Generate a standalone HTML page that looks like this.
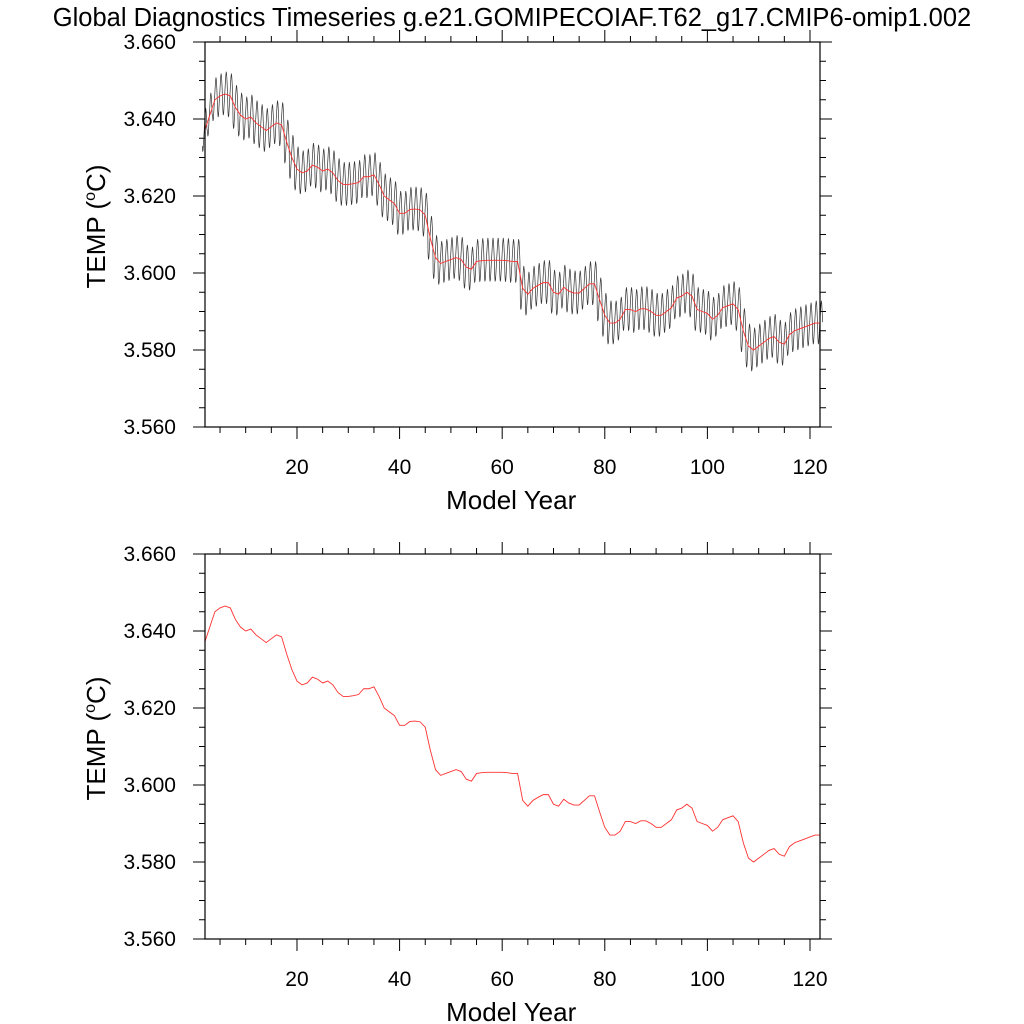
<!DOCTYPE html>
<html><head><meta charset="utf-8"><style>
body{margin:0;background:#fff;}
svg{display:block;font-family:"Liberation Sans",Arial,sans-serif;}
</style></head><body>
<svg id="chart" width="1024" height="1024" viewBox="0 0 1024 1024" xmlns="http://www.w3.org/2000/svg">
<text x="512" y="26" font-size="25.5" text-anchor="middle">Global Diagnostics Timeseries g.e21.GOMIPECOIAF.T62_g17.CMIP6-omip1.002</text>
<g id="p1"></g>
<g id="p2"></g>
</svg>
<script>
const years=[2,3,4,5,6,7,8,9,10,11,12,13,14,15,16,17,18,19,20,21,22,23,24,25,26,27,28,29,30,31,32,33,34,35,36,37,38,39,40,41,42,43,44,45,46,47,48,49,50,51,52,53,54,55,56,57,58,59,60,61,62,63,64,65,66,67,68,69,70,71,72,73,74,75,76,77,78,79,80,81,82,83,84,85,86,87,88,89,90,91,92,93,94,95,96,97,98,99,100,101,102,103,104,105,106,107,108,109,110,111,112,113,114,115,116,117,118,119,120,121,122];
const annualTemp=[3.637,3.641,3.645,3.646,3.6465,3.646,3.643,3.641,3.640,3.6405,3.639,3.638,3.637,3.638,3.639,3.6385,3.634,3.630,3.627,3.626,3.6265,3.628,3.6275,3.6265,3.627,3.626,3.624,3.623,3.623,3.6232,3.6235,3.625,3.625,3.6255,3.623,3.620,3.619,3.618,3.6155,3.6155,3.6165,3.6166,3.6164,3.615,3.609,3.604,3.6025,3.603,3.6035,3.604,3.6035,3.6015,3.601,3.603,3.6032,3.6033,3.6033,3.6033,3.6033,3.6032,3.603,3.603,3.596,3.5945,3.596,3.5968,3.5975,3.5975,3.595,3.5945,3.5963,3.5953,3.5948,3.5948,3.596,3.5972,3.5972,3.593,3.589,3.587,3.587,3.588,3.5905,3.5905,3.590,3.5907,3.5907,3.590,3.589,3.589,3.590,3.591,3.5935,3.594,3.595,3.594,3.5905,3.590,3.5895,3.588,3.589,3.591,3.5915,3.592,3.5905,3.585,3.581,3.580,3.581,3.582,3.583,3.5835,3.582,3.5815,3.584,3.585,3.5855,3.586,3.5865,3.587,3.587];
const seasonalAnom=[-0.004,-0.0055,-0.005,-0.003,-0.001,0.001,0.003,0.0048,0.0058,0.005,0.003,0.0002];
const yTicks=[3.560,3.580,3.600,3.620,3.640,3.660];
const yTickLabels=["3.560","3.580","3.600","3.620","3.640","3.660"];
const xTicks=[20,40,60,80,100,120];
const xTickLabels=["20","40","60","80","100","120"];

const NS="http://www.w3.org/2000/svg";
const L=205,R=820,XMIN=2.07,XMAX=121.95,YMIN=3.560,YMAX=3.660;
function sx(v){return L+(v-XMIN)/(XMAX-XMIN)*(R-L);}
function mk(g,tag,attrs){const e=document.createElementNS(NS,tag);for(const k in attrs)e.setAttribute(k,attrs[k]);g.appendChild(e);return e;}

function panel(g,T,B,monthly){
  const sy=v=>B-(v-YMIN)/(YMAX-YMIN)*(B-T);
  for(let k=0;k<=20;k++){
    const v=YMIN+k*0.005;
    const major=k%4===0,len=major?12:6,y=sy(v);
    let t=mk(g,'line',{x1:L-len,x2:L,y1:y,y2:y,stroke:'#000','stroke-width':1});
    
    t=mk(g,'line',{x1:R,x2:R+len,y1:y,y2:y,stroke:'#000','stroke-width':1});
    
  }
  for(let v=5;v<=XMAX;v+=5){
    const major=v%20===0,len=major?12:6,x=sx(v);
    let t=mk(g,'line',{x1:x,x2:x,y1:B,y2:B+len,stroke:'#000','stroke-width':1});
    
    t=mk(g,'line',{x1:x,x2:x,y1:T-len,y2:T,stroke:'#000','stroke-width':1});
    
  }
  yTicks.forEach((v,i)=>{const t=mk(g,'text',{x:176,y:sy(v)+7,'font-size':21,'text-anchor':'end'});t.textContent=yTickLabels[i];
    });
  xTicks.forEach((v,i)=>{const t=mk(g,'text',{x:sx(v),y:B+47,'font-size':21,'text-anchor':'middle'});t.textContent=xTickLabels[i];
    });
  const xt=mk(g,'text',{x:sx(60)+9,y:B+82,'font-size':26,'text-anchor':'middle'});xt.textContent='Model Year';
  
  const cy=(T+B)/2-8;
  const yt=mk(g,'text',{x:0,y:0,'font-size':26,'text-anchor':'middle',transform:`translate(105,${cy}) rotate(-90)`});
  yt.innerHTML='TEMP (<tspan font-size="16" dy="-10">o</tspan><tspan dy="10">C)</tspan>';
  
  if(monthly){
    let d='';
    years.forEach((yr,i)=>{seasonalAnom.forEach((a,m)=>{
      const x=sx(yr-0.5+(m+0.5)/12),y=sy(annualTemp[i]+a);
      d+=(d?'L':'M')+x.toFixed(2)+','+y.toFixed(2);});});
    const p=mk(g,'path',{d:d,fill:'none',stroke:'#333','stroke-width':0.7});
    
  }
  let d2='';
  years.forEach((yr,i)=>{d2+=(d2?'L':'M')+sx(yr).toFixed(2)+','+sy(annualTemp[i]).toFixed(2);});
  const r=mk(g,'path',{d:d2,fill:'none',stroke:'#ff3030','stroke-width':0.9});
  
  const f=mk(g,'rect',{x:L,y:T,width:R-L,height:B-T,fill:'none',stroke:'#000','stroke-width':1.2});
  
}
panel(document.getElementById('p1'),42,427,true);
panel(document.getElementById('p2'),554,939,false);
</script>
</body></html>
